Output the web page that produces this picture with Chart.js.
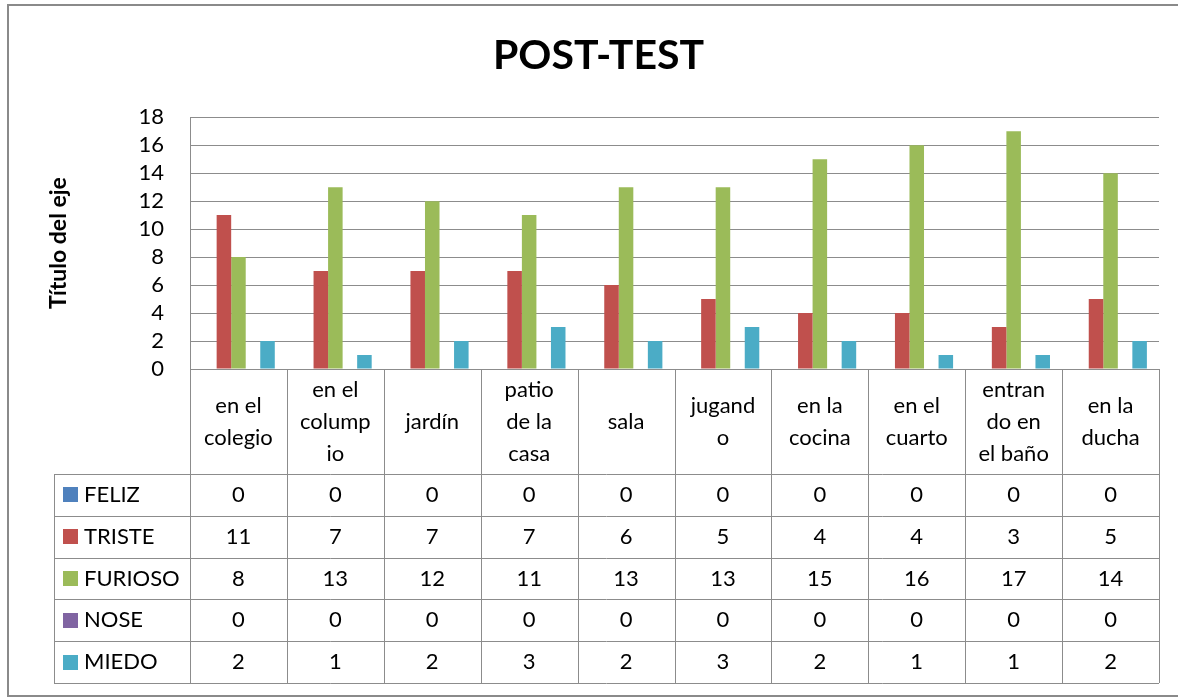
<!DOCTYPE html>
<html>
<head>
<meta charset="utf-8">
<script src="https://cdn.jsdelivr.net/npm/chart.js"></script>
<style>
  body { margin: 0; background: #fff; }
  #wrap { width: 1178px; height: 698px; position: relative; }
</style>
</head>
<body>
<div id="wrap"><canvas id="postTest"></canvas></div>
<script>
// categories (already wrapped the way the original table shows them)
const categories = [
  ["en el", "colegio"],
  ["en el", "colump", "io"],
  ["jardín"],
  ["patio", "de la", "casa"],
  ["sala"],
  ["jugand", "o"],
  ["en la", "cocina"],
  ["en el", "cuarto"],
  ["entran", "do en", "el baño"],
  ["en la", "ducha"]
];

const seriesNames = ["FELIZ", "TRISTE", "FURIOSO", "NOSE", "MIEDO"];
const seriesColors = ["#4f81bd", "#c0504d", "#9bbb59", "#8064a2", "#4bacc6"];

const feliz   = [0, 0, 0, 0, 0, 0, 0, 0, 0, 0];
const triste  = [11, 7, 7, 7, 6, 5, 4, 4, 3, 5];
const furioso = [8, 13, 12, 11, 13, 13, 15, 16, 17, 14];
const nose    = [0, 0, 0, 0, 0, 0, 0, 0, 0, 0];
const miedo   = [2, 1, 2, 3, 2, 3, 2, 1, 1, 2];

const yTicks = [0, 2, 4, 6, 8, 10, 12, 14, 16, 18];

const allSeries = [feliz, triste, furioso, nose, miedo];
const gridColor = "#8c8c8c";
const fontFamily = "Lato, 'Open Sans', sans-serif";

// outer frame of the chart object
const framePlugin = {
  id: "frame",
  beforeDraw(chart) {
    const ctx = chart.ctx;
    ctx.save();
    ctx.fillStyle = "#fff";
    ctx.fillRect(0, 0, chart.width, chart.height);
    ctx.strokeStyle = "#8a8a8a";
    ctx.lineWidth = 2;
    ctx.strokeRect(8, 5, chart.width + 10, 691);
    ctx.restore();
  }
};

// data table under the plot, aligned to the x scale
const tablePlugin = {
  id: "dataTable",
  afterDraw(chart) {
    const ctx = chart.ctx;
    const x = chart.scales.x;
    const area = chart.chartArea;
    const step = x.getPixelForValue(1) - x.getPixelForValue(0);
    const headTop = area.bottom;
    const headBottom = 474;
    const rowH = 41.8;
    const tableBottom = headBottom + rowH * seriesNames.length;
    const legendLeft = 54;
    const crisp = v => Math.round(v) + 0.5;

    ctx.save();
    ctx.strokeStyle = gridColor;
    ctx.lineWidth = 1;
    ctx.beginPath();
    // vertical lines
    for (let i = 0; i <= categories.length; i++) {
      const px = crisp(x.getPixelForValue(i) - step / 2);
      ctx.moveTo(px, headTop);
      ctx.lineTo(px, tableBottom);
    }
    ctx.moveTo(crisp(legendLeft), headBottom);
    ctx.lineTo(crisp(legendLeft), tableBottom);
    // horizontal lines
    ctx.moveTo(area.left, crisp(headTop));
    ctx.lineTo(area.right, crisp(headTop));
    for (let r = 0; r <= seriesNames.length; r++) {
      const py = crisp(headBottom + r * rowH);
      ctx.moveTo(legendLeft, py);
      ctx.lineTo(area.right, py);
    }
    ctx.stroke();

    ctx.fillStyle = "#000";
    ctx.font = "22px " + fontFamily;
    ctx.textBaseline = "middle";
    ctx.textAlign = "center";

    // header: category names
    const lh = 32;
    categories.forEach((lines, i) => {
      const cx = x.getPixelForValue(i);
      const mid = (headTop + headBottom) / 2;
      const start = mid - (lines.length - 1) * lh / 2;
      lines.forEach((t, k) => ctx.fillText(t, cx, start + k * lh));
    });

    // rows
    seriesNames.forEach((name, r) => {
      const cy = headBottom + r * rowH + rowH / 2;
      ctx.fillStyle = seriesColors[r];
      ctx.fillRect(63, Math.round(cy - 7.5), 15, 15);
      ctx.fillStyle = "#000";
      ctx.textAlign = "left";
      ctx.fillText(name, 84, cy);
      ctx.textAlign = "center";
      allSeries[r].forEach((v, i) => {
        ctx.fillText(String(v), x.getPixelForValue(i), cy);
      });
    });
    ctx.restore();
  }
};

const ctx = document.getElementById("postTest").getContext("2d");
new Chart(ctx, {
  type: "bar",
  data: {
    labels: categories.map(c => c.join(" ")),
    datasets: seriesNames.map((name, i) => ({
      label: name,
      data: allSeries[i],
      backgroundColor: seriesColors[i],
      borderWidth: 0,
      categoryPercentage: 0.75,
      barPercentage: 1
    }))
  },
  options: {
    responsive: true,
    maintainAspectRatio: false,
    animation: false,
    layout: { padding: { left: 38, right: 19, top: 8, bottom: 329 } },
    plugins: {
      legend: { display: false },
      tooltip: { enabled: false },
      title: {
        display: true,
        text: "POST-TEST",
        color: "#000",
        font: { family: fontFamily, size: 41, weight: "bold", lineHeight: 1.2 },
        padding: { top: 23, bottom: 37 }
      }
    },
    scales: {
      x: { display: false },
      y: {
        min: 0,
        max: 18,
        afterFit(scale) { scale.width = 152; },
        afterBuildTicks(scale) { scale.ticks = yTicks.map(v => ({ value: v })); },
        grid: { color: gridColor, lineWidth: 1, drawTicks: false },
        border: { display: true, color: gridColor, width: 1 },
        ticks: {
          color: "#000",
          padding: 26,
          autoSkip: false,
          font: { family: fontFamily, size: 22 }
        },
        title: {
          display: true,
          text: "Título del eje",
          color: "#000",
          font: { family: fontFamily, size: 23, weight: "bold", lineHeight: 1.2 },
          padding: { top: 7, bottom: 0 }
        }
      }
    }
  },
  plugins: [framePlugin, tablePlugin]
});
</script>
</body>
</html>
